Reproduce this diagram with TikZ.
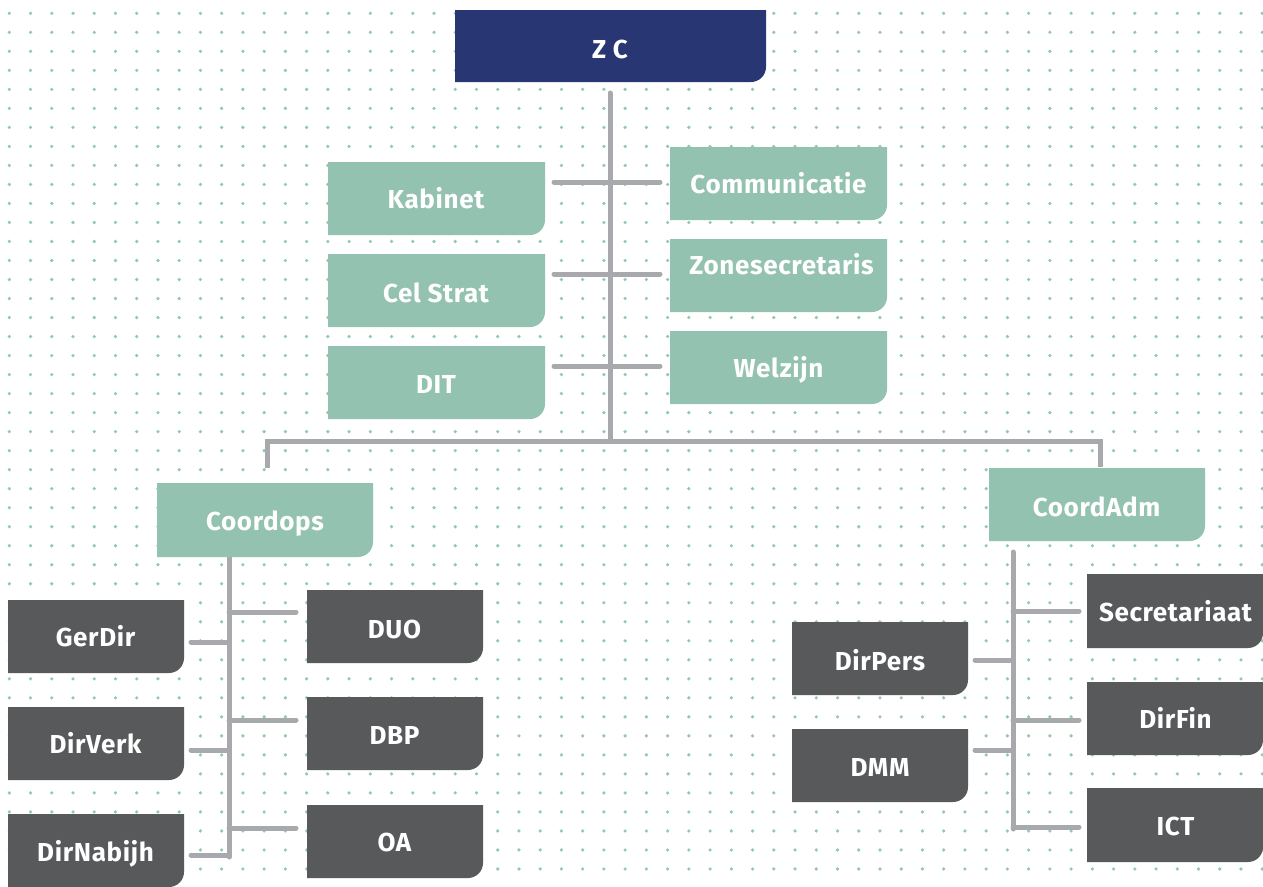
\documentclass[tikz,border=0pt]{standalone}
\usepackage{fontspec}
\setmainfont{Fira Sans}
\definecolor{navy}{HTML}{283673}
\definecolor{teal}{HTML}{93C2B1}
\definecolor{darkbox}{HTML}{58595B}
\definecolor{linegrey}{HTML}{A7A9AC}
\definecolor{dotcol}{HTML}{92C8B4}
\newcommand\orgbox[6]{% style, x1, y1, x2, y2
  \fill[#1] (#2,#3) -- (#4,#3) -- (#4,#5-15) arc[start angle=0,end angle=-90,radius=15pt] -- (#2,#5) -- cycle;
}
\begin{document}
\begin{tikzpicture}[x=1pt,y=-1pt,
  lbl/.style={text=white,font=\fontsize{26}{30}\selectfont\bfseries\addfontfeatures{LetterSpace=2.5},inner sep=0pt,anchor=base},
  conn/.style={draw=linegrey,line width=5pt,line cap=round},
  trunk/.style={draw=linegrey,line width=5pt,line cap=round,line join=miter}]
\useasboundingbox (0,0) rectangle (1263,886);
\clip (0,0) rectangle (1263,886);
% dot grid
\foreach \i in {0,...,59}{
  \foreach \j in {0,...,45}{
    \fill[dotcol] (9.3+21.236*\i,13.3+19.015*\j) circle[radius=1.8pt];
  }
}
% connectors
\coordinate (zcb) at (610,93);
\coordinate (mid) at (610,441);
\coordinate (hl) at (267,441);
\coordinate (hr) at (1100,441);
\coordinate (cop) at (267,468);
\coordinate (cad) at (1100,467);
\draw[trunk] (zcb) -- (mid);
\draw[trunk,line cap=butt] (cop) -- (hl) -- (hr) -- (cad);
\foreach \y/\n in {182/a,274/b,366/c}{
  \coordinate (l\n) at (554,\y);
  \coordinate (r\n) at (660,\y);
  \draw[conn] (l\n) -- (r\n);
}
% Coordops tree
\coordinate (opt) at (229,557);
\coordinate (opb) at (229,857);
\draw[trunk] (opt) -- (opb);
\foreach \y/\n in {612/a,720/b,828/c}{
  \coordinate (opr\n) at (296,\y);
  \draw[conn] (229,\y) -- (opr\n);
}
\foreach \y/\n in {642/a,750/b,855/c}{
  \coordinate (opl\n) at (191,\y);
  \draw[conn] (opl\n) -- (229,\y);
}
% CoordAdm tree
\coordinate (adt) at (1013,552);
\coordinate (adb) at (1013,829);
\draw[trunk] (adt) -- (adb);
\foreach \y/\n in {611/a,720/b,827/c}{
  \coordinate (adr\n) at (1079,\y);
  \draw[conn] (1013,\y) -- (adr\n);
}
\foreach \y/\n in {660/a,750/b}{
  \coordinate (adl\n) at (975,\y);
  \draw[conn] (adl\n) -- (1013,\y);
}
% boxes
\orgbox{navy}{455}{10}{766}{82}{}
\orgbox{teal}{328}{162}{545}{235}{}
\orgbox{teal}{670}{147}{887}{220}{}
\orgbox{teal}{328}{254}{545}{327}{}
\orgbox{teal}{670}{239}{887}{312}{}
\orgbox{teal}{328}{346}{545}{419}{}
\orgbox{teal}{670}{331}{887}{404}{}
\orgbox{teal}{157}{483}{373}{557}{}
\orgbox{teal}{989}{468}{1205}{541}{}
\orgbox{darkbox}{8}{600}{184}{673}{}
\orgbox{darkbox}{8}{707}{184}{780}{}
\orgbox{darkbox}{8}{814}{184}{887}{}
\orgbox{darkbox}{307}{590}{483}{663}{}
\orgbox{darkbox}{307}{697}{483}{770}{}
\orgbox{darkbox}{307}{805}{483}{878}{}
\orgbox{darkbox}{792}{622}{968}{695}{}
\orgbox{darkbox}{792}{729}{968}{802}{}
\orgbox{darkbox}{1087}{574}{1263}{648}{}
\orgbox{darkbox}{1087}{682}{1263}{755}{}
\orgbox{darkbox}{1087}{788}{1263}{862}{}
% labels
\node[lbl] (zc) at (610,58) {Z C};
\node[lbl] (kab) at (436,208.5) {Kabinet};
\node[lbl] (com) at (778.5,193.5) {Communicatie};
\node[lbl] (cel) at (436,302) {Cel Strat};
\node[lbl] (zon) at (781.5,274) {Zonesecretaris};
\node[lbl] (dit) at (436,393) {DIT};
\node[lbl] (wel) at (778.5,377) {Welzijn};
\node[lbl] (cop) at (265,530) {Coordops};
\node[lbl] (cad) at (1096.5,516) {CoordAdm};
\node[lbl] (ger) at (95.5,646.5) {GerDir};
\node[lbl] (dv) at (95.5,753.5) {DirVerk};
\node[lbl] (dn) at (95.5,861.5) {DirNabijh};
\node[lbl] (duo) at (394.5,638) {DUO};
\node[lbl] (dbp) at (394.5,744) {DBP};
\node[lbl] (oa) at (394.5,851.5) {OA};
\node[lbl] (dp) at (880,670) {DirPers};
\node[lbl] (dmm) at (880,776.5) {DMM};
\node[lbl] (sec) at (1175.5,621.5) {Secretariaat};
\node[lbl] (dfin) at (1175.5,728) {DirFin};
\node[lbl] (ict) at (1175.5,835.5) {ICT};
\end{tikzpicture}
\end{document}
